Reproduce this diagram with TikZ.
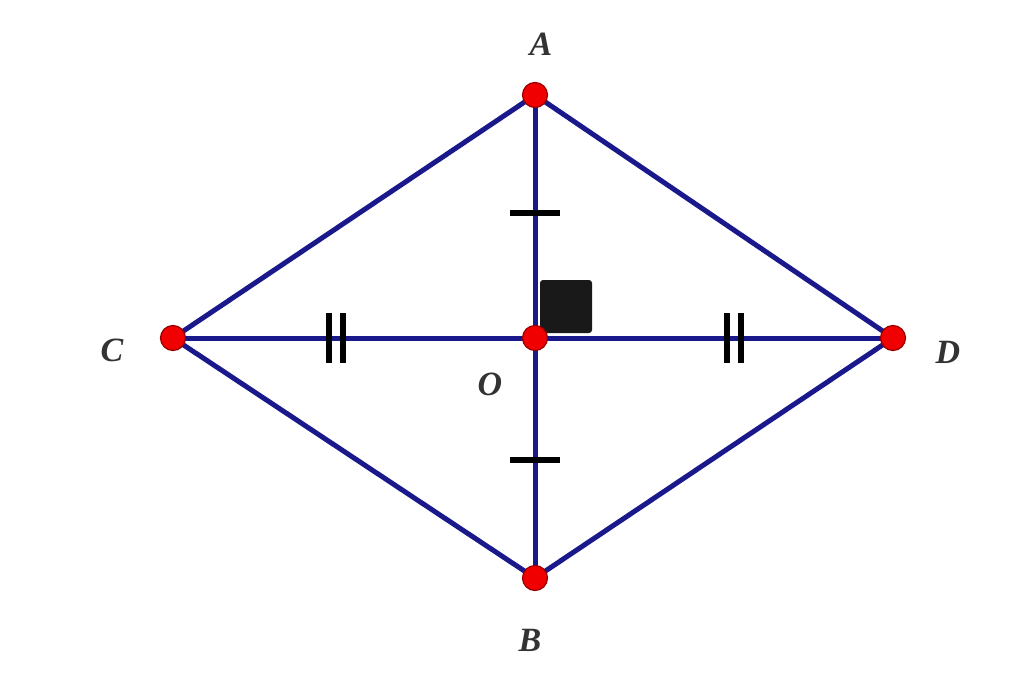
\documentclass[tikz,border=0pt]{standalone}
\usepackage{fontspec}
\setmainfont{Liberation Serif}
\definecolor{segblue}{RGB}{25,25,140}
\definecolor{ptred}{RGB}{240,0,0}
\definecolor{ptborder}{RGB}{150,0,0}
\begin{document}
\begin{tikzpicture}[x=1pt,y=-1pt,
  seg/.style={draw=segblue,line width=5pt},
  tick/.style={draw=black,line width=6pt},
  pt/.style={circle,fill=ptred,draw=ptborder,line width=1.2pt,minimum size=25pt,inner sep=0pt},
  lbl/.style={font=\fontsize{34}{40}\selectfont\bfseries\itshape,text=black!80}]
\useasboundingbox (0,0) rectangle (1024,680);
\coordinate (A) at (535,95);
\coordinate (B) at (535,578);
\coordinate (C) at (173,338);
\coordinate (D) at (893,338);
\coordinate (O) at (535,338);
% right angle marker
\fill[black!90,rounded corners=3pt] (540,280) rectangle (592,333);
% sides
\draw[seg] (A) -- (D) -- (B) -- (C) -- cycle;
\draw[seg] (A) -- (B);
\draw[seg] (C) -- (D);
% ticks
\coordinate (t1a) at (510,213); \coordinate (t1b) at (560,213);
\draw[tick] (t1a) -- (t1b);
\coordinate (t2a) at (510,460); \coordinate (t2b) at (560,460);
\draw[tick] (t2a) -- (t2b);
\coordinate (d1a) at (329,313); \coordinate (d1b) at (329,363);
\coordinate (d2a) at (343,313); \coordinate (d2b) at (343,363);
\draw[tick] (d1a) -- (d1b); \draw[tick] (d2a) -- (d2b);
\coordinate (d3a) at (727,313); \coordinate (d3b) at (727,363);
\coordinate (d4a) at (741,313); \coordinate (d4b) at (741,363);
\draw[tick] (d3a) -- (d3b); \draw[tick] (d4a) -- (d4b);
% points
\node[pt] (pA) at (A) {};
\node[pt] (pB) at (B) {};
\node[pt] (pC) at (C) {};
\node[pt] (pD) at (D) {};
\node[pt] (pO) at (O) {};
% labels
\node[lbl] (lA) at (541,44) {A};
\node[lbl] (lB) at (530,640) {B};
\node[lbl] (lC) at (112,350) {C};
\node[lbl] (lD) at (948,352) {D};
\node[lbl] (lO) at (490,384) {O};
\end{tikzpicture}
\end{document}
